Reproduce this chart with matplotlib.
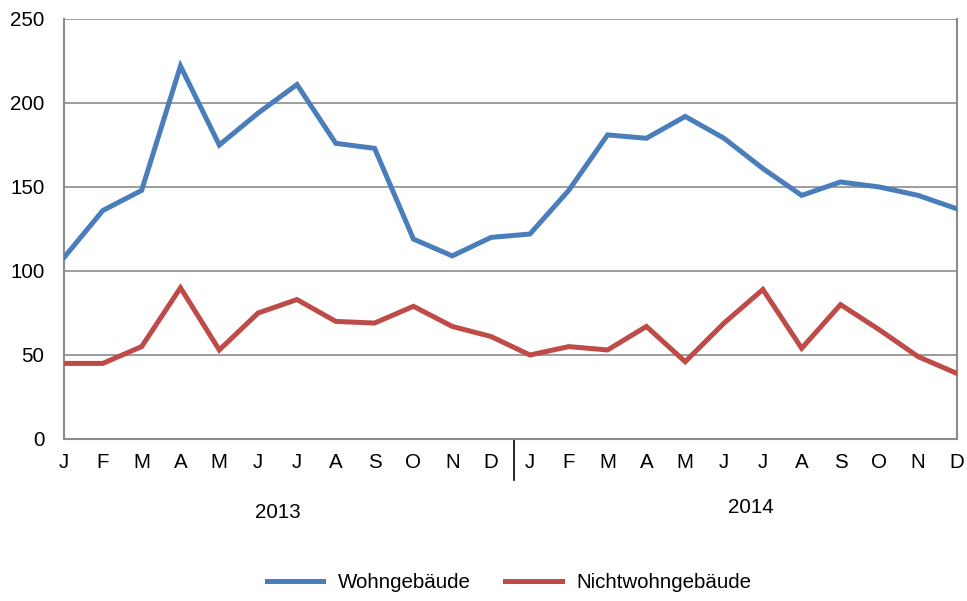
import matplotlib
matplotlib.use("Agg")
import matplotlib.pyplot as plt
from matplotlib.transforms import blended_transform_factory

plt.rcParams['font.family'] = ['Liberation Sans', 'DejaVu Sans']

months = ["J", "F", "M", "A", "M", "J", "J", "A", "S", "O", "N", "D"] * 2
years = ["2013", "2014"]
wohn = [108, 136, 148, 222, 175, 194, 211, 176, 173, 119, 109, 120,
        122, 148, 181, 179, 192, 179, 161, 145, 153, 150, 145, 137]
nicht = [45, 45, 55, 90, 53, 75, 83, 70, 69, 79, 67, 61,
         50, 55, 53, 67, 46, 69, 89, 54, 80, 65, 49, 39]
series_names = ["Wohngebäude", "Nichtwohngebäude"]
colors = ["#4A7EBB", "#BE4B48"]

FS = 14.8

fig = plt.figure(figsize=(9.67, 6.01), dpi=100)
ax = fig.add_axes([64/967, 1-439/601, (957-64)/967, (439-19)/601])

x = list(range(len(months)))
ax.plot(x, wohn, color=colors[0], lw=3.6, label=series_names[0], solid_joinstyle='miter', zorder=3)
ax.plot(x, nicht, color=colors[1], lw=3.6, label=series_names[1], solid_joinstyle='miter', zorder=3)

ax.set_xlim(0, 23)
ax.set_ylim(0, 250)
ax.set_yticks([0, 50, 100, 150, 200, 250])
ax.yaxis.grid(True, color="#8C8C8C", lw=1.2)
ax.set_axisbelow(True)
ax.spines["top"].set_visible(False)
for s in ["left", "bottom", "right"]:
    ax.spines[s].set_color("#8C8C8C")
    ax.spines[s].set_linewidth(1.5)

ax.set_xticks(x)
ax.set_xticklabels(months)
ax.tick_params(axis='x', length=0, pad=10, labelsize=FS)
ax.tick_params(axis='y', length=0, pad=14, labelsize=FS)

trans = blended_transform_factory(ax.transData, ax.transAxes)
ax.plot([11.6, 11.6], [0, -0.098], color="black", lw=1.2, transform=trans, clip_on=False)
ax.text(5.5, -0.176, years[0], transform=trans, ha='center', va='center', fontsize=FS)
ax.text(17.7, -0.164, years[1], transform=trans, ha='center', va='center', fontsize=FS)

fig.legend(loc='center', bbox_to_anchor=(509/967, 1-583/601), ncol=2, frameon=False,
           fontsize=FS, handlelength=2.74, columnspacing=1.68, handletextpad=0.72)

fig.savefig("out.png", dpi=100)
